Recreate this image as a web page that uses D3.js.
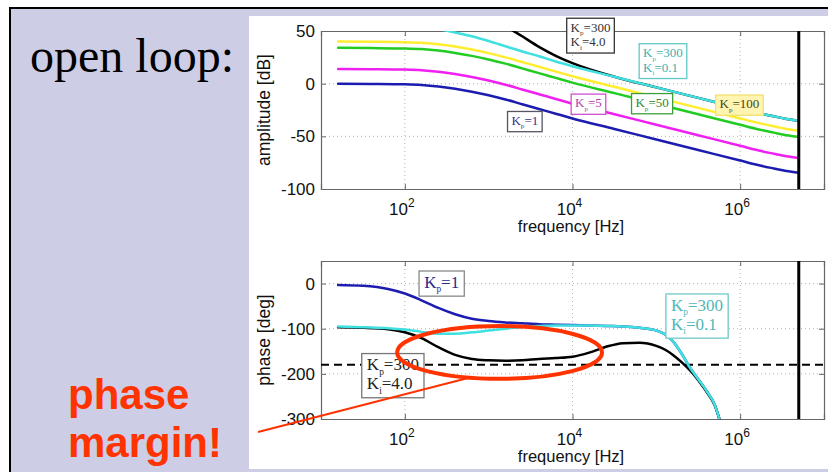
<!DOCTYPE html>
<html>
<head>
<meta charset="utf-8">
<script src="https://cdn.jsdelivr.net/npm/d3@7"></script>
<style>
  html, body { margin: 0; padding: 0; background: #ffffff; }
  svg { display: block; }
</style>
</head>
<body>
<div id="chart"></div>
<script>
// ---- Open-loop Bode data (PI controller, several gains) ----
// Amplitude curves share one frequency grid [Hz]
const freqAmpHz = [16, 40, 100, 158, 251, 398, 631, 1000, 1585, 2512, 3981, 6310, 1e4, 3.16e4, 1e5, 3.16e5, 1e6, 1.58e6, 2.51e6, 3.55e6, 5e6];
const ampKp1   = [0, -0.2, -0.6, -1.2, -2.6, -4.8, -7.6, -11, -15, -19.5, -24, -28.5, -33, -43, -53, -63, -73, -77, -80.5, -83, -84.5];
const ampKp5   = [14, 13.8, 13.4, 12.8, 11.4, 9.2, 6.4, 3, -1, -5.5, -10, -14.5, -19, -29, -39, -49, -59, -63, -66.5, -69, -70.5];
const ampKp50  = [34, 33.8, 33.4, 32.8, 31.4, 29.2, 26.4, 23, 19, 14.5, 10, 5.5, 1, -9, -19, -29, -39, -43, -46.5, -49, -50.5];
const ampKp100 = [40, 39.8, 39.4, 38.8, 37.4, 35.2, 32.4, 29, 25, 20.5, 16, 11.5, 7, -3, -13, -23, -33, -37, -40.5, -43, -44.5];
const ampKp300Ki01 = [75, 67, 58.5, 55, 52, 48.5, 45, 40.5, 35.5, 30.5, 26, 21, 16.5, 6.5, -3.5, -13.5, -23.5, -27.5, -31, -33.5, -35];
const ampKp300Ki4  = [140, 124, 108, 100, 92, 84, 76, 68, 55, 45, 35, 26.5, 19.5, 6.6, -3.5, -13.5, -23.5, -27.5, -31, -33.5, -35];

// Phase curves share a denser grid near the delay roll-off [Hz]
const freqPhaseHz = [16, 32, 63, 100, 158, 251, 398, 631, 1000, 1585, 2512, 3981, 6310, 1e4, 1.58e4, 2.51e4, 3.98e4, 6.31e4, 1e5, 1.26e5, 1.58e5, 2e5, 2.51e5, 3.16e5, 3.98e5, 5.01e5, 5.75e5];
const phaseKp1       = [-3, -5, -12, -22, -37, -54, -68, -78, -83, -86, -88, -90, -91, -92, -93, -94, -95, -98, -104, -112, -128, -155, -186, -212, -238, -270, -305];
const phaseKp300Ki01 = [-95, -97, -99, -102, -107, -111, -111, -108, -104, -100, -96, -94, -93, -93, -93, -94, -95, -98, -104, -112, -128, -155, -186, -212, -238, -270, -305];
const phaseKp300Ki4  = [-97, -98, -101, -108, -121, -141, -158, -167, -170, -171, -170, -167, -165, -162, -153, -140, -132, -131, -138, -146, -158, -174, -192, -214, -240, -271, -305];

// Axis ticks
const freqTicks  = [1e2, 1e4, 1e6];
const ampTicks   = [50, 0, -50, -100];
const phaseTicks = [0, -100, -200, -300];
const phaseRefDeg = -180;   // stability limit
const nyquistHz = 5e6;      // sampling limit marker

// ---- Layout ----
const W = 828, H = 472;
const svg = d3.select("#chart").append("svg").attr("width", W).attr("height", H);

svg.append("rect").attr("width", W).attr("height", H).attr("fill", "#ffffff");
svg.append("rect").attr("x", 11).attr("y", 9).attr("width", W - 11).attr("height", H - 9).attr("fill", "#cdcde6");
svg.append("rect").attr("x", 249).attr("y", 16).attr("width", W - 249).attr("height", 453).attr("fill", "#ffffff");
svg.append("path").attr("d", `M10,${H} V8 H${W}`).attr("fill", "none").attr("stroke", "#000").attr("stroke-width", 2);

svg.append("text").attr("x", 30).attr("y", 72)
  .attr("font-family", "'Liberation Serif', 'Times New Roman', serif").attr("font-size", 48)
  .attr("fill", "#000").text("open loop:");

const pm = svg.append("g").attr("font-family", "'Liberation Sans', Arial, sans-serif")
  .attr("font-weight", "bold").attr("font-size", 42).attr("fill", "#ff3300");
pm.append("text").attr("x", 68).attr("y", 409).text("phase");
pm.append("text").attr("x", 68).attr("y", 457).text("margin!");

const x = d3.scaleLog().domain([10, 1e7]).range([321, 824]);
const sansFont = "'Liberation Sans', Arial, Helvetica, sans-serif";
const serifFont = "'Liberation Serif', 'Times New Roman', serif";

function panel(opts) {
  const { y, ticks, ylabel, id } = opts;
  const [y0, y1] = y.range();           // bottom, top
  const g = svg.append("g");

  // dotted grid
  const grid = g.append("g").attr("stroke", "#b4b4b4").attr("stroke-width", 1).attr("stroke-dasharray", "1,3");
  freqTicks.forEach(f => grid.append("line").attr("x1", x(f)).attr("x2", x(f)).attr("y1", y1).attr("y2", y0));
  ticks.filter(t => t > y.domain()[0] && t < y.domain()[1])
    .forEach(t => grid.append("line").attr("x1", x.range()[0]).attr("x2", x.range()[1]).attr("y1", y(t)).attr("y2", y(t)));

  // clip region for curves
  g.append("clipPath").attr("id", id).append("rect")
    .attr("x", x.range()[0]).attr("y", y1).attr("width", x.range()[1] - x.range()[0]).attr("height", y0 - y1);

  // axes with inward ticks
  const left = g.append("g").attr("transform", `translate(${x.range()[0]},0)`)
    .call(d3.axisLeft(y).tickValues(ticks).tickSize(-5).tickPadding(6).tickFormat(d => String(d)));
  const right = g.append("g").attr("transform", `translate(${x.range()[1]},0)`)
    .call(d3.axisRight(y).tickValues(ticks).tickSize(-5).tickFormat(""));
  const bottom = g.append("g").attr("transform", `translate(0,${y0})`)
    .call(d3.axisBottom(x).tickValues(freqTicks).tickSize(-5).tickPadding(12).tickFormat(""));
  const top = g.append("g").attr("transform", `translate(0,${y1})`)
    .call(d3.axisTop(x).tickValues(freqTicks).tickSize(-5).tickFormat(""));
  [left, right, bottom, top].forEach(a => {
    a.select(".domain").attr("stroke", "#666").attr("stroke-width", 1.2);
    a.selectAll(".tick line").attr("stroke", "#666");
  });
  left.selectAll("text").attr("font-family", sansFont).attr("font-size", 17).attr("fill", "#111");

  // decade labels 10^n
  freqTicks.forEach(f => {
    const t = g.append("text").attr("x", x(f) - 3).attr("y", y0 + 26).attr("text-anchor", "middle")
      .attr("font-family", sansFont).attr("font-size", 17).attr("fill", "#111");
    t.append("tspan").text("10");
    t.append("tspan").attr("dy", -8).attr("font-size", 12).text(Math.round(Math.log10(f)));
  });
  g.append("text").attr("x", 571).attr("y", y0 + 43).attr("text-anchor", "middle")
    .attr("font-family", sansFont).attr("font-size", 16.5).attr("fill", "#111").text("frequency [Hz]");
  g.append("text").attr("transform", `translate(270,${(y0 + y1) / 2}) rotate(-90)`).attr("text-anchor", "middle")
    .attr("font-family", sansFont).attr("font-size", 17.5).attr("fill", "#111").text(ylabel);

  return g;
}

function curve(g, clipId, y, freqs, vals, color, width) {
  const line = d3.line().x(d => x(d[0])).y(d => y(d[1])).curve(d3.curveMonotoneX);
  g.append("path").attr("clip-path", `url(#${clipId})`)
    .attr("d", line(freqs.map((f, i) => [f, vals[i]])))
    .attr("fill", "none").attr("stroke", color).attr("stroke-width", width || 2.5)
    .attr("stroke-linejoin", "round").attr("stroke-linecap", "round");
}

// Boxed gain label: rows like [["K","p","=300"], ...]
function gainLabel(g, rows, cx, cy, size, textColor, boxColor, fill) {
  const lg = g.append("g");
  const rect = lg.append("rect");
  const txt = lg.append("g").attr("font-family", serifFont).attr("font-size", size).attr("fill", textColor);
  const lh = size * 1.12;
  rows.forEach((r, i) => {
    const t = txt.append("text").attr("x", 0).attr("y", i * lh);
    t.append("tspan").text(r[0]);
    t.append("tspan").attr("font-size", size * 0.55).attr("dy", size * 0.28).text(r[1]);
    t.append("tspan").attr("dy", -size * 0.28).text(r[2]);
  });
  const bb = txt.node().getBBox();
  const padX = size * 0.3, padY = size * 0.1;
  const w = bb.width + 2 * padX, h = bb.height + 2 * padY;
  txt.attr("transform", `translate(${cx - bb.x - bb.width / 2},${cy - bb.y - bb.height / 2})`);
  rect.attr("x", cx - w / 2).attr("y", cy - h / 2).attr("width", w).attr("height", h)
    .attr("fill", fill || "#ffffff").attr("stroke", boxColor).attr("stroke-width", 1.3);
}

const colors = { kp1: "#1c1cb0", kp5: "#f020f0", kp50: "#22cc22", kp100: "#ffee30", ki01: "#40e0e0", ki4: "#000000" };

// ---- Amplitude panel ----
const yAmp = d3.scaleLinear().domain([-100, 50]).range([189, 31]);
const gA = panel({ y: yAmp, ticks: ampTicks, ylabel: "amplitude [dB]", id: "clipAmp" });
curve(gA, "clipAmp", yAmp, freqAmpHz, ampKp1, colors.kp1);
curve(gA, "clipAmp", yAmp, freqAmpHz, ampKp5, colors.kp5);
curve(gA, "clipAmp", yAmp, freqAmpHz, ampKp50, colors.kp50);
curve(gA, "clipAmp", yAmp, freqAmpHz, ampKp100, colors.kp100);
curve(gA, "clipAmp", yAmp, freqAmpHz, ampKp300Ki4, colors.ki4);
curve(gA, "clipAmp", yAmp, freqAmpHz, ampKp300Ki01, colors.ki01);
gA.append("line").attr("x1", x(nyquistHz)).attr("x2", x(nyquistHz)).attr("y1", yAmp(50)).attr("y2", yAmp(-100))
  .attr("stroke", "#000").attr("stroke-width", 3);

gainLabel(gA, [["K", "p", "=1"]], x(2700), yAmp(-36), 13, "#3a2f8a", "#555566");
gainLabel(gA, [["K", "p", "=5"]], x(1.55e4), yAmp(-19.5), 13, "#b040b0", "#d050d0");
gainLabel(gA, [["K", "p", "=50"]], x(8.9e4), yAmp(-19), 13, "#2a8a2a", "#3aa03a");
gainLabel(gA, [["K", "p", "=100"]], x(9.8e5), yAmp(-20.4), 13, "#444422", "#f2e070", "#fff5b0");
gainLabel(gA, [["K", "p", "=300"], ["K", "i", "=0.1"]], x(1.2e5), yAmp(21.4), 13, "#40b0b0", "#60c8c8");
gainLabel(gA, [["K", "p", "=300"], ["K", "i", "=4.0"]], x(1.64e4), yAmp(45.6), 13, "#333333", "#333333");

// ---- Phase panel ----
const yPh = d3.scaleLinear().domain([-300, 50]).range([419, 261]);
const gP = panel({ y: yPh, ticks: phaseTicks, ylabel: "phase [deg]", id: "clipPh" });
gP.append("line").attr("x1", x.range()[0]).attr("x2", x.range()[1]).attr("y1", yPh(phaseRefDeg)).attr("y2", yPh(phaseRefDeg))
  .attr("stroke", "#000").attr("stroke-width", 2).attr("stroke-dasharray", "8,5");
curve(gP, "clipPh", yPh, freqPhaseHz, phaseKp1, colors.kp1);
curve(gP, "clipPh", yPh, freqPhaseHz, phaseKp300Ki4, colors.ki4);
curve(gP, "clipPh", yPh, freqPhaseHz, phaseKp300Ki01, colors.ki01);
gP.append("line").attr("x1", x(nyquistHz)).attr("x2", x(nyquistHz)).attr("y1", yPh(50)).attr("y2", yPh(-300))
  .attr("stroke", "#000").attr("stroke-width", 3);

gainLabel(gP, [["K", "p", "=1"]], x(275), yPh(0), 17, "#2a2a8a", "#888888");
gainLabel(gP, [["K", "p", "=300"], ["K", "i", "=4.0"]], x(72), yPh(-204), 17, "#222222", "#777777");
gainLabel(gP, [["K", "p", "=300"], ["K", "i", "=0.1"]], x(3.06e5), yPh(-72), 17, "#50b8b8", "#70c8c8");

// ---- Phase-margin highlight ----
const pmBox = { f0: 81, f1: 22500, top: -94, bottom: -211 };
const ex0 = x(pmBox.f0), ex1 = x(pmBox.f1), ey0 = yPh(pmBox.top), ey1 = yPh(pmBox.bottom);
svg.append("ellipse").attr("cx", (ex0 + ex1) / 2).attr("cy", (ey0 + ey1) / 2)
  .attr("rx", (ex1 - ex0) / 2).attr("ry", (ey1 - ey0) / 2)
  .attr("fill", "none").attr("stroke", "#ff3300").attr("stroke-width", 4);
svg.append("line").attr("x1", 258).attr("y1", 432).attr("x2", x(568)).attr("y2", yPh(-209))
  .attr("stroke", "#ff3300").attr("stroke-width", 2);
</script>
</body>
</html>
